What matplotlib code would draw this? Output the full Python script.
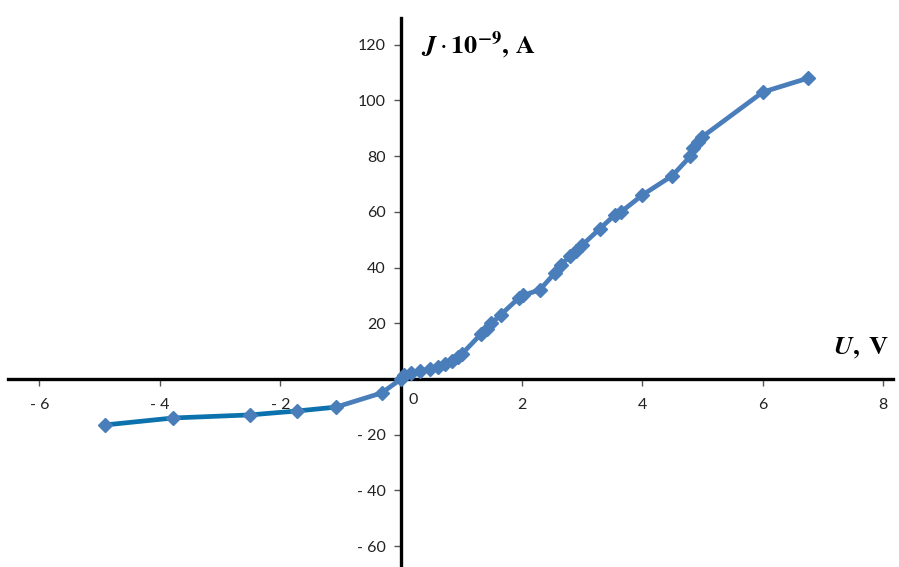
import matplotlib.pyplot as plt

# current-voltage data
u_neg = [-4.91, -3.78, -2.51, -1.73, -1.08]
j_neg = [-16.5, -14.0, -12.9, -11.5, -10.1]

u_pos = [-1.08, -0.32, 0.0, 0.05, 0.17, 0.32, 0.48, 0.61, 0.73, 0.85, 0.95, 1.01,
         1.32, 1.42, 1.50, 1.65, 1.95, 2.02, 2.30, 2.55, 2.65, 2.80, 2.90, 3.00,
         3.30, 3.55, 3.65, 4.00, 4.50, 4.80, 4.85, 4.92, 5.00, 6.00, 6.75]
j_pos = [-10.1, -5.0, 0.0, 1.4, 2.2, 2.9, 3.6, 4.3, 5.4, 6.5, 7.9, 9.0,
         16.0, 18.0, 20.0, 23.0, 29.0, 30.0, 32.0, 38.0, 41.0, 44.0, 46.0, 48.0,
         54.0, 59.0, 60.0, 66.0, 73.0, 80.0, 83.0, 85.0, 87.0, 103.0, 108.0]

x_ticks = [-6, -4, -2, 2, 4, 6, 8]
y_ticks = [-60, -40, -20, 20, 40, 60, 80, 100, 120]

plt.rcParams['mathtext.fontset'] = 'stix'
plt.rcParams['font.family'] = ['Lato', 'DejaVu Sans']

fig = plt.figure(figsize=(8.99, 5.67), dpi=100)
ax = fig.add_axes([8 / 899, 0, 885 / 899, 549 / 567])

ax.plot(u_neg, j_neg, color='#0b72ad', lw=3.4, solid_capstyle='butt', zorder=3)
ax.plot(u_pos, j_pos, color='#4a7ebb', lw=3.4, zorder=3)
ax.plot(u_neg + u_pos[1:], j_neg + j_pos[1:], ls='none', marker='D', ms=7,
        color='#4a7ebb', zorder=4)

ax.set_xlim(-6.52, 8.16)
ax.set_ylim(-67.5, 129.6)

for s in ['top', 'right']:
    ax.spines[s].set_visible(False)
ax.spines['left'].set_position(('data', 0))
ax.spines['bottom'].set_position(('data', 0))
for s in ['left', 'bottom']:
    ax.spines[s].set_linewidth(2.4)
    ax.spines[s].set_color('black')

def fmt(v):
    return f'- {abs(v)}' if v < 0 else str(v)

ax.set_xticks(x_ticks)
ax.set_xticklabels([fmt(v) for v in x_ticks])
ax.set_yticks(y_ticks)
ax.set_yticklabels([fmt(v) for v in y_ticks])
ax.tick_params(axis='x', direction='out', length=5, width=1, color='#555555',
               pad=9, labelsize=11.5, labelcolor='#222222')
ax.tick_params(axis='y', direction='out', length=5, width=1, color='#555555',
               pad=6, labelsize=11.5, labelcolor='#222222')

ax.annotate('0', xy=(0, 0), xytext=(5, -10), textcoords='offset points',
            ha='left', va='top', fontsize=11.5, color='#222222')

ax.annotate(r'$\boldsymbol{J}\cdot\mathbf{10}^{\mathbf{-9}}\mathbf{,\,A}$',
            xy=(0, 129.6), xytext=(14, -8), textcoords='offset points',
            ha='left', va='top', fontsize=19)
ax.annotate(r'$\boldsymbol{U}\mathbf{,\ V}$', xy=(8.16, 0), xytext=(-3, 14),
            textcoords='offset points', ha='right', va='bottom', fontsize=19)

fig.savefig('out.png', dpi=100)
